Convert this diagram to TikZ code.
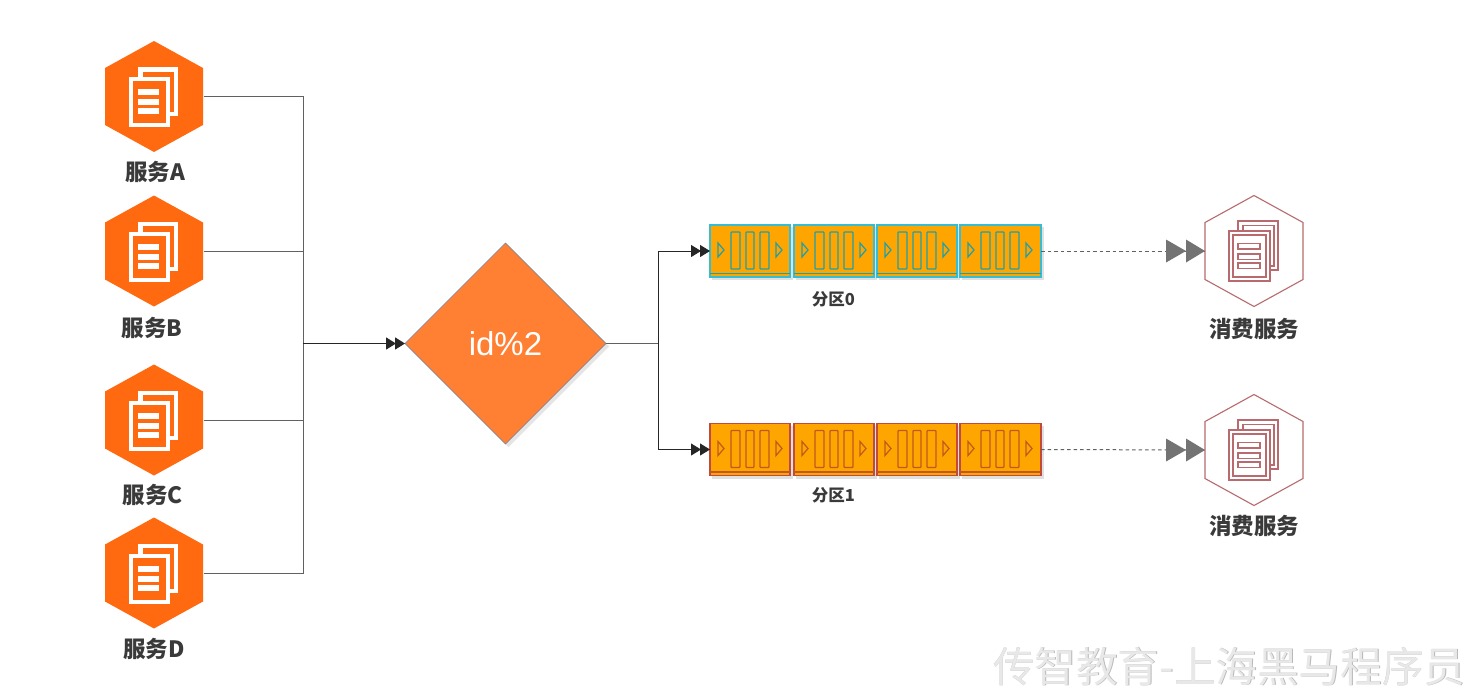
\documentclass[tikz,border=0pt]{standalone}
\usepackage{fontspec}
\setmainfont{Liberation Sans}
\newfontfamily\cjk{Noto Sans CJK SC}
\usetikzlibrary{arrows.meta,shapes.geometric}
\definecolor{hexor}{HTML}{FF6A10}
\definecolor{hexline}{HTML}{B96A6E}
\definecolor{txt}{HTML}{3A3A3A}
\definecolor{qfill}{HTML}{FFA500}
\definecolor{qcyan}{HTML}{35BDD5}
\definecolor{qteal}{HTML}{1F9FA8}
\definecolor{qred}{HTML}{C04A40}
\definecolor{qbrown}{HTML}{BE5A1E}
\definecolor{diafill}{HTML}{FF8033}
\definecolor{diaedge}{HTML}{6E82A0}
\tikzset{
  wire/.style={draw=black!62,line width=1pt},
  mainwire/.style={draw=black!85,line width=1.5pt},
  dblhead/.style={-{Triangle[length=10pt,width=12pt,sep=-1pt]Triangle[length=10pt,width=12pt]},color=black!85},
  dashwire/.style={draw=black!62,line width=1pt,dash pattern=on 3.5pt off 3pt},
  hexbox/.style={minimum width=99pt,minimum height=111pt,inner sep=0pt,outer sep=0pt},
  cellbox/.style={minimum height=52pt,inner sep=0pt,outer sep=0pt},
  lab/.style={text=txt,inner sep=0pt,font=\cjk\bfseries\fontsize{22.5}{22.5}\selectfont},
  lab2/.style={text=txt,inner sep=0pt,font=\cjk\bfseries\fontsize{22.5}{22.5}\selectfont},
  lab3/.style={text=txt,inner sep=0pt,font=\cjk\bfseries\fontsize{16.5}{16.5}\selectfont},
}
\newcommand{\hexpath}{(0,-55.5) -- (49,-28.5) -- (49,28.5) -- (0,55.5) -- (-49,28.5) -- (-49,-28.5) -- cycle}
\newcommand{\orhex}[3]{%
  \node[hexbox] (#1) at (#2,#3) {};
  \begin{scope}[shift={(#2,#3)}]
    \fill[hexor] \hexpath;
    \fill[white] (-16,-29.5) rectangle (24,19.5);
    \fill[hexor] (-11,-25) rectangle (19.5,15.5);
    \fill[white] (-25,-19.5) rectangle (16,30.5);
    \fill[hexor] (-21,-15.5) rectangle (12,26.5);
    \fill[white] (-16,-7.5) rectangle (5,-1.5);
    \fill[white] (-16,2.5) rectangle (5,8.5);
    \fill[white] (-16,11.5) rectangle (5,17.5);
  \end{scope}}
\newcommand{\linehex}[3]{%
  \node[hexbox] (#1) at (#2,#3) {};
  \begin{scope}[shift={(#2,#3)},draw=hexline,line width=1.1pt]
    \draw[fill=white] \hexpath;
    \draw[fill=white] (-16,-30) rectangle (24,19);
    \draw (-11,-25.5) rectangle (20,15);
    \draw[fill=white] (-25,-20) rectangle (16,30);
    \draw (-21,-16) rectangle (12,26);
    \draw (-16,-7.5) rectangle (6,-2);
    \draw (-16,3) rectangle (6,8.5);
    \draw (-16,12) rectangle (6,17.5);
  \end{scope}}
% name, left x, centre y, width, edge colour, inner colour
\newcommand{\qcell}[6]{%
  \fill[black!12] (#2+2,#3-24) rectangle (#2+#4+3,#3+29);
  \node[cellbox,minimum width=#4pt,fill=qfill,draw=#5,line width=1.3pt,anchor=west] (#1) at (#2,#3) {};
  \begin{scope}[shift={(#2,#3)},line width=1.2pt]
    \draw[draw=#6,line width=1.6pt] (0,22.5) -- (#4,22.5);
    \draw[draw=#6] (8,-8) -- (14,-1) -- (8,6) -- cycle;
    \draw[draw=#6,rounded corners=0.8pt] (21,-19) rectangle (30,18);
    \draw[draw=#6,rounded corners=0.8pt] (36,-19) rectangle (44,18);
    \draw[draw=#6,rounded corners=0.8pt] (50,-19) rectangle (59,18);
    \draw[draw=#6] (66,-8) -- (72,-1) -- (66,6) -- cycle;
  \end{scope}}
\begin{document}
\begin{tikzpicture}[x=1pt,y=-1pt]
\useasboundingbox (0,0) rectangle (1471,694);
\fill[white] (0,0) rectangle (1471,694);

\orhex{sA}{154}{96.5}
\orhex{sB}{154}{251}
\orhex{sC}{154}{420}
\orhex{sD}{154}{573}
\node[lab] (lA) at (155,172) {服务A};
\node[lab] (lB) at (152,328) {服务B};
\node[lab] (lC) at (153,495) {服务C};
\node[lab] (lD) at (154,648.5) {服务D};

% diamond
\fill[black!10] (508.5,246) -- (609,346.5) -- (508.5,447) -- (408,346.5) -- cycle;
\node[diamond,minimum width=201pt,minimum height=201pt,aspect=1,inner sep=0pt,outer sep=0pt,
  fill=diafill,draw=diaedge,line width=0.6pt,
  text=white,font=\fontsize{33}{33}\selectfont] (dia) at (505.5,343.5) {id\%2};

% junction points
\coordinate (jL) at (303,343.5);
\coordinate (jR) at (658,343.5);

\draw[wire] (sA.east) -| (jL);
\draw[wire] (sB.east) -| (jL);
\draw[wire] (sC.east) -| (jL);
\draw[wire] (sD.east) -| (jL);
\draw[mainwire,dblhead,line width=1.5pt] (jL) -- (dia.west);
\draw[wire] (dia.east) -- (jR);

% queue 0
\qcell{a1}{710}{251}{80}{qcyan}{qteal}
\qcell{a2}{794}{251}{80}{qcyan}{qteal}
\qcell{a3}{877}{251}{80}{qcyan}{qteal}
\qcell{a4}{960}{251}{81}{qcyan}{qteal}
% queue 1
\qcell{b1}{710}{449.5}{80}{qred}{qbrown}
\qcell{b2}{794}{449.5}{80}{qred}{qbrown}
\qcell{b3}{877}{449.5}{80}{qred}{qbrown}
\qcell{b4}{960}{449.5}{81}{qred}{qbrown}

\draw[wire,dblhead] (jR) |- (a1.west);
\draw[wire,dblhead] (jR) |- (b1.west);

\node[lab3] (p0) at (833.5,299) {分区0};
\node[lab3] (p1) at (833.5,495.5) {分区1};

\linehex{c1}{1254}{251}
\linehex{c2}{1254}{450}
\node[lab2] (lc1) at (1254,329) {消费服务};
\node[lab2] (lc2) at (1254,525.5) {消费服务};

\draw[dashwire] (a4.east) -- (c1.west);
\draw[dashwire] (b4.east) -- (c2.west);
\fill[black!55] (1166,239.5) -- (1186,251) -- (1166,262.5) -- cycle;
\fill[black!55] (1186,239.5) -- (1205,251) -- (1186,262.5) -- cycle;
\fill[black!55] (1166,438.5) -- (1186,450) -- (1166,461.5) -- cycle;
\fill[black!55] (1186,438.5) -- (1205,450) -- (1186,461.5) -- cycle;

% watermark
\node[text=black!28,inner sep=0pt,font=\cjk\fontsize{41.6}{41.6}\selectfont] (wm0) at (1230,667) {传智教育-上海黑马程序员};
\node[text=black!9,inner sep=0pt,font=\cjk\fontsize{41.6}{41.6}\selectfont] (wm) at (1229.2,666.2) {传智教育-上海黑马程序员};
\end{tikzpicture}
\end{document}
